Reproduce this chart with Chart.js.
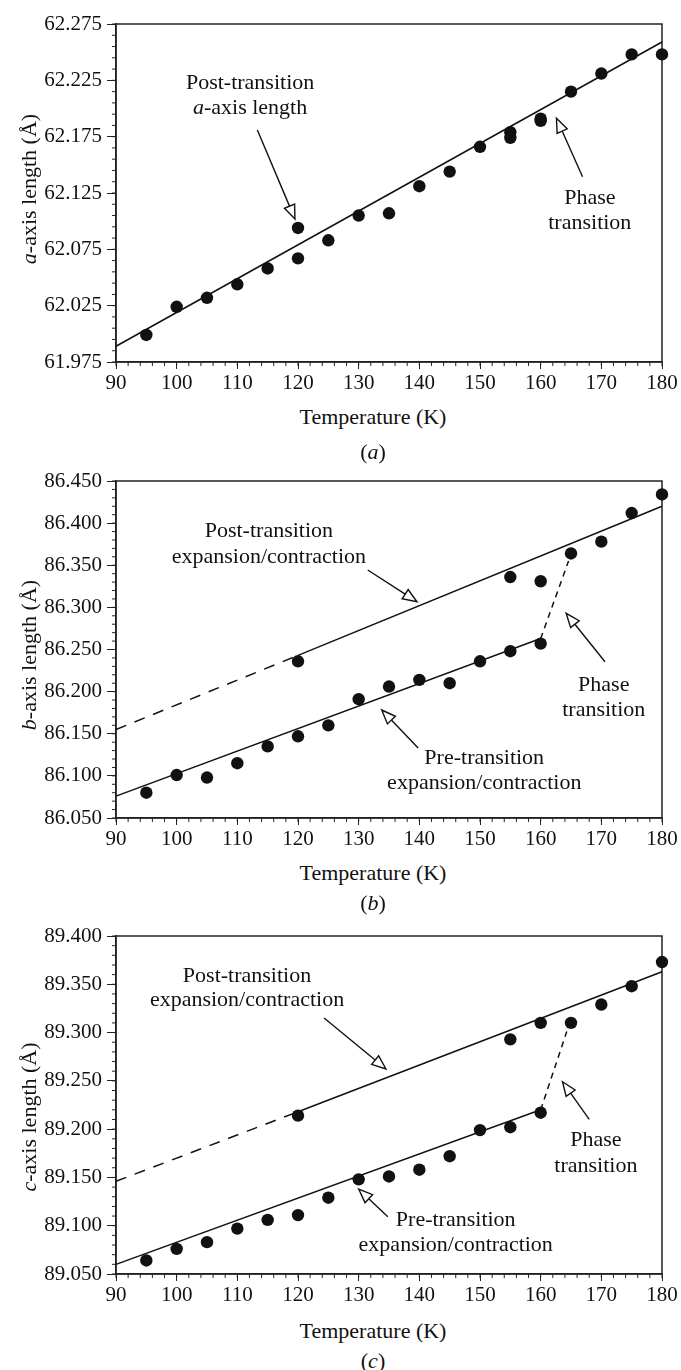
<!DOCTYPE html>
<html>
<head>
<meta charset="utf-8">
<script src="https://cdn.jsdelivr.net/npm/chart.js@4.4.0/dist/chart.umd.min.js"></script>
<style>
body { margin:0; background:#fff; }
#page { position:relative; width:681px; height:1370px; font-family:"Liberation Serif", serif; color:#111; overflow:hidden; }
canvas { position:absolute; left:0; }
.lbl { position:absolute; font-size:22px; white-space:nowrap; transform:translate(-50%,-50%); }
.ytitle { position:absolute; font-size:22px; white-space:nowrap; transform:translate(-50%,-50%) rotate(-90deg); }
</style>
</head>
<body>
<div id="page">
  <canvas id="chartA" width="681" height="400" style="top:0px"></canvas>
  <canvas id="chartB" width="681" height="400" style="top:460px"></canvas>
  <canvas id="chartC" width="681" height="400" style="top:915px"></canvas>

  <div class="ytitle" style="left:29px;top:189px"><i>a</i>-axis length (Å)</div>
  <div class="lbl" style="left:373px;top:417px">Temperature (K)</div>
  <div class="lbl" style="left:373px;top:452px">(<i>a</i>)</div>

  <div class="ytitle" style="left:29px;top:655px"><i>b</i>-axis length (Å)</div>
  <div class="lbl" style="left:373px;top:873px">Temperature (K)</div>
  <div class="lbl" style="left:373px;top:903px">(<i>b</i>)</div>

  <div class="ytitle" style="left:29px;top:1117px"><i>c</i>-axis length (Å)</div>
  <div class="lbl" style="left:373px;top:1331px">Temperature (K)</div>
  <div class="lbl" style="left:373px;top:1361px">(<i>c</i>)</div>
</div>
<script>
// measured temperatures (K), same order in all three panels
const temps = [95, 100, 105, 110, 115, 120, 120, 125, 130, 135, 140, 145, 150, 155, 155, 160, 160, 165, 170, 175, 180];
const tempTicks = [90, 100, 110, 120, 130, 140, 150, 160, 170, 180];

// (a) a-axis
const aLen = [61.999, 62.024, 62.032, 62.044, 62.058, 62.094, 62.067, 62.083, 62.105, 62.107, 62.131, 62.144, 62.166, 62.179, 62.174, 62.191, 62.189, 62.215, 62.231, 62.248, 62.248];
const aTicks = [61.975, 62.025, 62.075, 62.125, 62.175, 62.225, 62.275];
const aFitT = [90, 180];
const aFit = [61.989, 62.259];

// (b) b-axis
const bLen = [86.080, 86.101, 86.098, 86.115, 86.135, 86.147, 86.236, 86.160, 86.191, 86.206, 86.214, 86.210, 86.236, 86.248, 86.336, 86.257, 86.331, 86.364, 86.378, 86.412, 86.434];
const bTicks = [86.050, 86.100, 86.150, 86.200, 86.250, 86.300, 86.350, 86.400, 86.450];
const bPostT = [90, 120, 180];
const bPost = [86.155, 86.243, 86.420];
const bPreT = [90, 160];
const bPre = [86.076, 86.263];
const bPhaseT = [160, 164.6];
const bPhase = [86.263, 86.355];

// (c) c-axis
const cLen = [89.064, 89.076, 89.083, 89.097, 89.106, 89.111, 89.214, 89.129, 89.148, 89.151, 89.158, 89.172, 89.199, 89.202, 89.293, 89.217, 89.310, 89.310, 89.329, 89.348, 89.373];
const cTicks = [89.050, 89.100, 89.150, 89.200, 89.250, 89.300, 89.350, 89.400];
const cPostT = [90, 120, 180];
const cPost = [89.146, 89.218, 89.363];
const cPreT = [90, 160];
const cPre = [89.060, 89.220];
const cPhaseT = [160, 164.3];
const cPhase = [89.220, 89.301];

const INK = '#111';
const FONT = '"Liberation Serif", serif';
Chart.defaults.color = INK;
Chart.defaults.font.family = FONT;

function pts(xs, ys) { return xs.map((v, i) => ({ x: v, y: ys[i] })); }

function fitLine(data, dash) {
  return {
    type: 'scatter', data: data, showLine: true, pointRadius: 0,
    borderColor: INK, borderWidth: 1.5, borderDash: dash || [], fill: false, clip: false
  };
}

// box around plot + minor ticks
const framePlugin = {
  id: 'frame',
  beforeDatasetsDraw(chart, args, opts) {
    const { ctx, chartArea: a, scales: { x, y } } = chart;
    ctx.save();
    ctx.strokeStyle = '#222';
    ctx.lineWidth = 1.5;
    ctx.strokeRect(a.left, a.top, a.right - a.left, a.bottom - a.top);
    ctx.lineWidth = 1;
    ctx.beginPath();
    let n = Math.round((x.max - x.min) / opts.xMinor);
    for (let i = 0; i <= n; i++) {
      const px = x.getPixelForValue(x.min + i * opts.xMinor);
      ctx.moveTo(px, a.bottom); ctx.lineTo(px, a.bottom + 4);
    }
    n = Math.round((y.max - y.min) / opts.yMinor);
    for (let i = 0; i <= n; i++) {
      const py = y.getPixelForValue(y.min + i * opts.yMinor);
      ctx.moveTo(a.left - 4, py); ctx.lineTo(a.left, py);
    }
    ctx.stroke();
    ctx.restore();
  }
};

// labels and open-headed arrows inside the plot
const notesPlugin = {
  id: 'notes',
  afterDatasetsDraw(chart, args, opts) {
    const { ctx, scales: { x, y } } = chart;
    ctx.save();
    ctx.textBaseline = 'middle';
    ctx.textAlign = 'left';
    ctx.fillStyle = INK;
    (opts.texts || []).forEach(n => {
      let w = 0;
      n.parts.forEach(p => {
        ctx.font = (p.it ? 'italic ' : '') + '22px ' + FONT;
        p.w = ctx.measureText(p.t).width;
        w += p.w;
      });
      let px = x.getPixelForValue(n.x) - w / 2;
      const py = y.getPixelForValue(n.y);
      n.parts.forEach(p => {
        ctx.font = (p.it ? 'italic ' : '') + '22px ' + FONT;
        ctx.fillText(p.t, px, py);
        px += p.w;
      });
    });
    ctx.strokeStyle = INK;
    ctx.lineWidth = 1.4;
    (opts.arrows || []).forEach(ar => {
      const x1 = x.getPixelForValue(ar.x1), y1 = y.getPixelForValue(ar.y1);
      const x2 = x.getPixelForValue(ar.x2), y2 = y.getPixelForValue(ar.y2);
      const ang = Math.atan2(y2 - y1, x2 - x1);
      const len = 14, half = 5.5;
      const bx = x2 - len * Math.cos(ang), by = y2 - len * Math.sin(ang);
      ctx.beginPath(); ctx.moveTo(x1, y1); ctx.lineTo(bx, by); ctx.stroke();
      ctx.beginPath();
      ctx.moveTo(x2, y2);
      ctx.lineTo(bx + half * Math.sin(ang), by - half * Math.cos(ang));
      ctx.lineTo(bx - half * Math.sin(ang), by + half * Math.cos(ang));
      ctx.closePath();
      ctx.fillStyle = '#fff'; ctx.fill(); ctx.stroke();
    });
    ctx.restore();
  }
};

function makePanel(id, vals, yTicks, lines, padTop, xAxisH, notes) {
  return new Chart(document.getElementById(id), {
    type: 'scatter',
    data: {
      datasets: [{
        data: pts(temps, vals), pointRadius: 6.2, pointHoverRadius: 6.2,
        backgroundColor: INK, borderColor: INK, borderWidth: 0, clip: false
      }].concat(lines)
    },
    options: {
      responsive: false, animation: false, events: [],
      layout: { padding: { top: padTop, right: 19, left: 0, bottom: 0 } },
      plugins: { legend: { display: false }, tooltip: { enabled: false },
        frame: { xMinor: 2, yMinor: 0.01 }, notes: notes },
      scales: {
        x: {
          type: 'linear', min: 90, max: 180,
          afterBuildTicks: s => { s.ticks = tempTicks.map(v => ({ value: v })); },
          afterFit: s => { s.height = xAxisH; },
          grid: { drawOnChartArea: false, tickLength: 7, color: '#222', lineWidth: 1 },
          border: { color: '#222', width: 1.5 },
          ticks: { font: { size: 21, family: FONT }, color: INK, padding: 2, maxRotation: 0 }
        },
        y: {
          type: 'linear', min: yTicks[0], max: yTicks[yTicks.length - 1],
          afterBuildTicks: s => { s.ticks = yTicks.map(v => ({ value: v })); },
          afterFit: s => { s.width = 116; },
          grid: { drawOnChartArea: false, tickLength: 9, color: '#222', lineWidth: 1 },
          border: { color: '#222', width: 1.5 },
          ticks: { font: { size: 21, family: FONT }, color: INK, padding: 5,
            callback: v => v.toFixed(3) }
        }
      }
    },
    plugins: [framePlugin, notesPlugin]
  });
}

const post = [{ t: 'Post-transition' }];
const expc = [{ t: 'expansion/contraction' }];
const pre = [{ t: 'Pre-transition' }];

makePanel('chartA', aLen, aTicks,
  [fitLine(pts(aFitT, aFit))], 24, 38, {
    texts: [
      { x: 112.1, y: 62.2226, parts: post },
      { x: 112.1, y: 62.2004, parts: [{ t: 'a', it: true }, { t: '-axis length' }] },
      { x: 168.1, y: 62.1203, parts: [{ t: 'Phase' }] },
      { x: 168.1, y: 62.0984, parts: [{ t: 'transition' }] }
    ],
    arrows: [
      { x1: 113.3, y1: 62.1809, x2: 119.5, y2: 62.1019 },
      { x1: 166.9, y1: 62.1395, x2: 162.6, y2: 62.1913 }
    ]
  });

makePanel('chartB', bLen, bTicks, [
  fitLine(pts(bPostT.slice(0, 2), bPost.slice(0, 2)), [11, 9]),
  fitLine(pts(bPostT.slice(1), bPost.slice(1))),
  fitLine(pts(bPreT, bPre)),
  fitLine(pts(bPhaseT, bPhase), [6, 5])
], 21, 42, {
  texts: [
    { x: 115.2, y: 86.3898, parts: post },
    { x: 115.2, y: 86.3598, parts: expc },
    { x: 150.7, y: 86.1212, parts: pre },
    { x: 150.7, y: 86.0915, parts: expc },
    { x: 170.4, y: 86.2079, parts: [{ t: 'Phase' }] },
    { x: 170.4, y: 86.1774, parts: [{ t: 'transition' }] }
  ],
  arrows: [
    { x1: 131.5, y1: 86.3444, x2: 139.6, y2: 86.3067 },
    { x1: 139.8, y1: 86.1331, x2: 133.8, y2: 86.1782 },
    { x1: 170.6, y1: 86.2355, x2: 164.2, y2: 86.2930 }
  ]
});

makePanel('chartC', cLen, cTicks, [
  fitLine(pts(cPostT.slice(0, 2), cPost.slice(0, 2)), [11, 9]),
  fitLine(pts(cPostT.slice(1), cPost.slice(1))),
  fitLine(pts(cPreT, cPre)),
  fitLine(pts(cPhaseT, cPhase), [6, 5])
], 21, 41, {
  texts: [
    { x: 111.6, y: 89.3586, parts: post },
    { x: 111.6, y: 89.3330, parts: expc },
    { x: 146.0, y: 89.1059, parts: pre },
    { x: 146.0, y: 89.0800, parts: expc },
    { x: 169.1, y: 89.1888, parts: [{ t: 'Phase' }] },
    { x: 169.1, y: 89.1618, parts: [{ t: 'transition' }] }
  ],
  arrows: [
    { x1: 124.3, y1: 89.3151, x2: 134.5, y2: 89.2623 },
    { x1: 134.8, y1: 89.1093, x2: 130.0, y2: 89.1380 },
    { x1: 168.0, y1: 89.2102, x2: 163.6, y2: 89.2491 }
  ]
});
</script>
</body>
</html>
